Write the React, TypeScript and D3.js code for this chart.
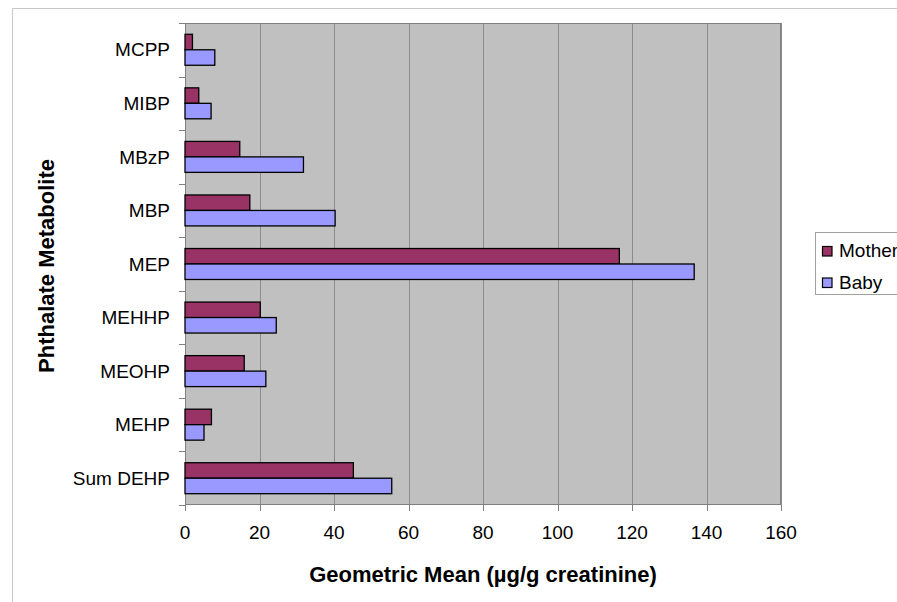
import React from "react";
import * as d3 from "d3";

const categories = ["MCPP", "MIBP", "MBzP", "MBP", "MEP", "MEHHP", "MEOHP", "MEHP", "Sum DEHP"];
const motherValues = [2.0, 3.7, 14.7, 17.4, 116.6, 20.2, 15.9, 7.1, 45.2];
const babyValues = [8.0, 7.0, 31.8, 40.3, 136.7, 24.5, 21.7, 5.1, 55.5];
const xTicks = [0, 20, 40, 60, 80, 100, 120, 140, 160];
const seriesNames = ["Mother", "Baby"];
const seriesColors = ["#993366", "#9999FF"];

export default function App() {
  const W = 897, H = 602;
  const left = 185, right = 781, top = 23, bottom = 505;
  const x = d3.scaleLinear().domain([0, 160]).range([left, right]);
  const y = d3.scaleBand<string>().domain(categories).range([top, bottom]).paddingInner(0).paddingOuter(0);
  const bw = y.bandwidth();
  const barH = bw / (2 + 1.46);
  const font = "Liberation Sans, Arial, sans-serif";
  const fs = 19;

  return (
    <svg width={W} height={H} style={{ position: "absolute", left: 0, top: 0 }} fontFamily={font}>
      <rect x={0} y={0} width={W} height={H} fill="#fff" />
      <rect x={12.5} y={8.5} width={W} height={H} fill="#fff" stroke="#c8c8c8" strokeWidth={1} />
      <rect x={left} y={top} width={right - left} height={bottom - top} fill="#C0C0C0" />
      {xTicks.slice(1).map((t) => (
        <line key={"g" + t} x1={Math.round(x(t)) + 0.5} x2={Math.round(x(t)) + 0.5} y1={top} y2={bottom} stroke="#8c8c8c" strokeWidth={1} />
      ))}
      <rect x={left + 0.5} y={top + 0.5} width={right - left - 1} height={bottom - top - 1} fill="none" stroke="#808080" strokeWidth={1} />
      {categories.map((c, i) => {
        const y0 = y(c)!;
        const gy = y0 + (bw - 2 * barH) / 2;
        return (
          <g key={c}>
            <rect x={x(0)} y={gy} width={x(motherValues[i]) - x(0)} height={barH} fill={seriesColors[0]} stroke="#000" strokeWidth={1.3} />
            <rect x={x(0)} y={gy + barH} width={x(babyValues[i]) - x(0)} height={barH} fill={seriesColors[1]} stroke="#000" strokeWidth={1.3} />
          </g>
        );
      })}
      {d3.range(categories.length + 1).map((k) => {
        const yy = Math.round(top + k * bw) + 0.5;
        return <line key={"yt" + k} x1={left - 6} x2={left} y1={yy} y2={yy} stroke="#808080" />;
      })}
      {categories.map((c) => (
        <text key={"l" + c} x={170} y={y(c)! + bw / 2} dy="0.35em" textAnchor="end" fontSize={fs} fill="#000">
          {c}
        </text>
      ))}
      {xTicks.map((t) => (
        <g key={"xt" + t}>
          <line x1={Math.round(x(t)) + 0.5} x2={Math.round(x(t)) + 0.5} y1={bottom} y2={bottom + 6} stroke="#808080" />
          <text x={x(t)} y={539} textAnchor="middle" fontSize={fs} fill="#000">{t}</text>
        </g>
      ))}
      <text x={483} y={582} textAnchor="middle" fontSize={22} fontWeight="bold" fill="#000">
        Geometric Mean (µg/g creatinine)
      </text>
      <text transform="translate(53.5,266) rotate(-90)" textAnchor="middle" fontSize={22} fontWeight="bold" fill="#000">
        Phthalate Metabolite
      </text>
      <rect x={815.5} y={232.5} width={120} height={62} fill="#fff" stroke="#a0a0a0" />
      {seriesNames.map((n, i) => (
        <g key={n}>
          <rect x={822.5} y={246.5 + i * 31.5} width={9.5} height={9.5} fill={seriesColors[i]} stroke="#000" strokeWidth={1.2} />
          <text x={839} y={257 + i * 31.5} fontSize={fs} fill="#000">{n}</text>
        </g>
      ))}
    </svg>
  );
}
